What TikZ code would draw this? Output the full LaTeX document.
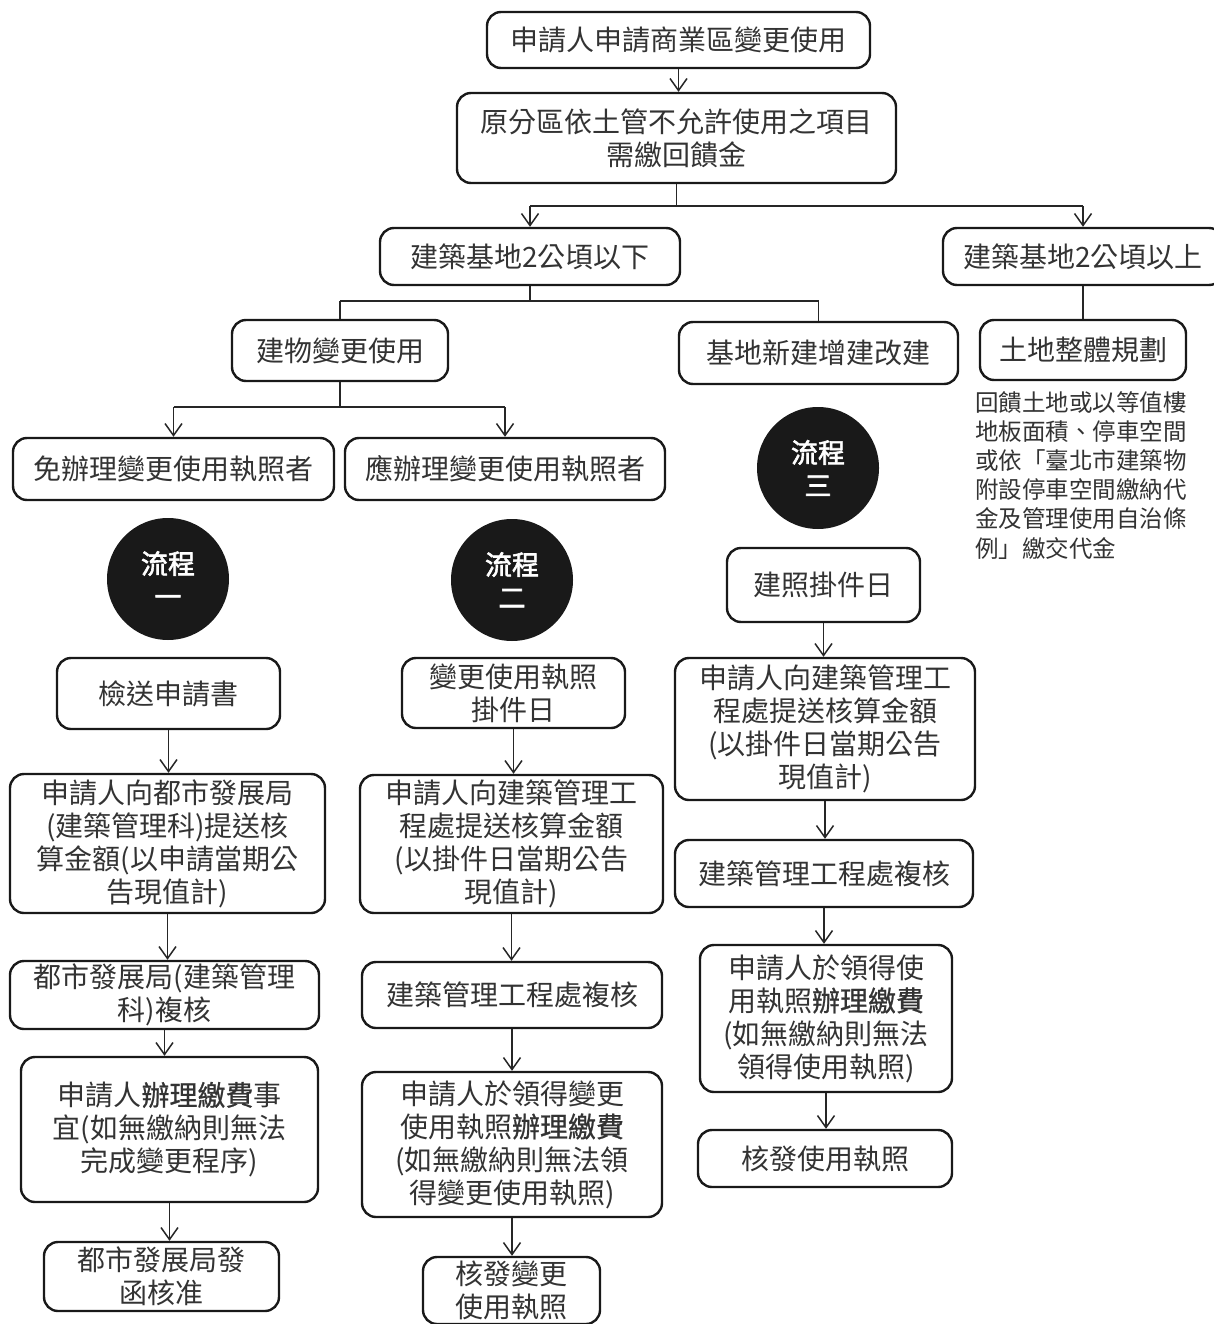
\documentclass[tikz,border=0pt]{standalone}
\usepackage{fontspec}
\setmainfont{Noto Sans CJK TC}
\newfontfamily\cjkb[FakeBold=0.9]{Noto Sans CJK TC}
\newfontfamily\cjkc[FakeBold=2.2]{Noto Sans CJK TC}
\usetikzlibrary{arrows.meta}
\tikzset{
 box/.style={draw=black!90, line width=2.4pt, rounded corners=14pt, align=center, inner sep=0pt,
   font=\fontsize{28}{33}\selectfont, text=black!80},
 link/.style={line width=1.5pt, draw=black!85},
 arr/.style={link, -{Straight Barb[length=12pt,width=17pt,line width=1.5pt]}},
 flow/.style={circle, fill=black!90, text=white, minimum size=122pt, inner sep=0pt, align=center,
   font=\fontsize{27}{33}\selectfont\cjkc},
 note/.style={align=left, inner sep=0pt, font=\fontsize{23.5}{29.2}\selectfont, text=black!80, anchor=north west},
}
\begin{document}
\begin{tikzpicture}[x=1pt,y=-1pt]
\fill[white] (0,0) rectangle (1214,1324);
\useasboundingbox (0,0) rectangle (1214,1324);

% top part
\node[box, minimum width=383pt, minimum height=56pt] (b1) at (678.5,40) {申請人申請商業區變更使用};
\node[box, minimum width=439pt, minimum height=90pt] (b2) at (676.5,138) {原分區依土管不允許使用之項目\\需繳回饋金};
\node[box, minimum width=300pt, minimum height=57pt] (b3) at (530,256.5) {建築基地2公頃以下};
\node[box, minimum width=280pt, minimum height=57pt] (b4) at (1083,256.5) {建築基地2公頃以上};
\node[box, minimum width=216pt, minimum height=61pt] (b5) at (340,350.5) {建物變更使用};
\node[box, minimum width=279pt, minimum height=62pt] (b6) at (818.5,353) {基地新建增建改建};
\node[box, minimum width=206pt, minimum height=60pt] (b7) at (1083,350) {土地整體規劃};
\node[note] (n8) at (975,391) {回饋土地或以等值樓\\地板面積、停車空間\\或依「臺北市建築物\\附設停車空間繳納代\\金及管理使用自治條\\例」繳交代金};
\node[box, minimum width=321pt, minimum height=62pt] (b9) at (173.5,469) {免辦理變更使用執照者};
\node[box, minimum width=320pt, minimum height=62pt] (b10) at (505,469) {應辦理變更使用執照者};

% flow circles
\node[flow] (f1) at (168,579) {流程\\一};
\node[flow] (f2) at (512,580) {流程\\二};
\node[flow] (f3) at (818,468) {流程\\三};

% column 1
\node[box, minimum width=223pt, minimum height=71pt] (k1) at (168.5,693.5) {檢送申請書};
\node[box, minimum width=315pt, minimum height=139pt] (k2) at (167.5,843.5) {申請人向都市發展局\\(建築管理科)提送核\\算金額(以申請當期公\\告現值計)};
\node[box, minimum width=309pt, minimum height=68pt] (k3) at (164.5,995) {都市發展局(建築管理\\科)複核};
\node[box, minimum width=297pt, minimum height=145pt] (k4) at (169.5,1129.5) {申請人{\cjkb 辦理繳費}事\\宜(如無繳納則無法\\完成變更程序)};
\node[box, minimum width=235pt, minimum height=69pt] (k5) at (161.5,1276.5) {都市發展局發\\函核准};

% column 2
\node[box, minimum width=223pt, minimum height=70pt] (m1) at (513.5,693) {變更使用執照\\掛件日};
\node[box, minimum width=303pt, minimum height=138pt] (m2) at (511.5,844) {申請人向建築管理工\\程處提送核算金額\\(以掛件日當期公告\\現值計)};
\node[box, minimum width=300pt, minimum height=66pt] (m3) at (512,995) {建築管理工程處複核};
\node[box, minimum width=300pt, minimum height=145pt] (m4) at (512,1144.5) {申請人於領得變更\\使用執照{\cjkb 辦理繳費}\\(如無繳納則無法領\\得變更使用執照)};
\node[box, minimum width=177pt, minimum height=67pt] (m5) at (511.5,1290.5) {核發變更\\使用執照};

% column 3
\node[box, minimum width=193pt, minimum height=74pt] (p1) at (823.5,585) {建照掛件日};
\node[box, minimum width=300pt, minimum height=142pt] (p2) at (825,729) {申請人向建築管理工\\程處提送核算金額\\(以掛件日當期公告\\現值計)};
\node[box, minimum width=298pt, minimum height=67pt] (p3) at (824,873.5) {建築管理工程處複核};
\node[box, minimum width=252pt, minimum height=147pt] (p4) at (826,1018.5) {申請人於領得使\\用執照{\cjkb 辦理繳費}\\(如無繳納則無法\\領得使用執照)};
\node[box, minimum width=254pt, minimum height=57pt] (p5) at (825,1158.5) {核發使用執照};

% connectors top
\draw[arr] (b1.south) -- (b1.south |- b2.north);
\coordinate (j1) at (677,206);
\draw[link] (b2.south) -- (b2.south |- j1);
\draw[link] (b3.north |- j1) -- (b4.north |- j1);
\draw[arr] (b3.north |- j1) -- (b3.north);
\draw[arr] (b4.north |- j1) -- (b4.north);

\coordinate (j2) at (530,301);
\draw[link] (b3.south) -- (b3.south |- j2);
\draw[link] (b5.north |- j2) -- (b6.north |- j2);
\draw[link] (b5.north |- j2) -- (b5.north);
\draw[link] (b6.north |- j2) -- (b6.north);
\draw[link] (b4.south) -- (b7.north);

\coordinate (j3) at (340,407);
\draw[link] (b5.south) -- (b5.south |- j3);
\draw[link] (b9.north |- j3) -- (b10.north |- j3);
\draw[arr] (b9.north |- j3) -- (b9.north);
\draw[arr] (b10.north |- j3) -- (b10.north);

% column arrows
\draw[arr] (k1.south) -- (k1.south |- k2.north);
\draw[arr] (k2.south) -- (k2.south |- k3.north);
\draw[arr] (k3.south) -- (k3.south |- k4.north);
\draw[arr] (k4.south) -- (k4.south |- k5.north);

\draw[arr] (m1.south) -- (m1.south |- m2.north);
\draw[arr] (m2.south) -- (m2.south |- m3.north);
\draw[arr] (m3.south) -- (m3.south |- m4.north);
\draw[arr] (m4.south) -- (m4.south |- m5.north);

\draw[arr] (p1.south) -- (p1.south |- p2.north);
\draw[arr] (p2.south) -- (p2.south |- p3.north);
\draw[arr] (p3.south) -- (p3.south |- p4.north);
\draw[arr] (p4.south) -- (p4.south |- p5.north);
\end{tikzpicture}
\end{document}
